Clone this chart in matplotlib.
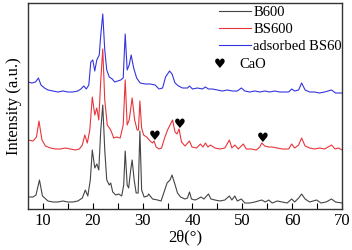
import numpy as np
import matplotlib
matplotlib.use("Agg")
import matplotlib.pyplot as plt
from matplotlib.ticker import MultipleLocator

plt.rcParams['font.family'] = ['Liberation Serif', 'DejaVu Sans']

# readings from the picture: 2theta and intensity (arbitrary, offset per curve)
b600_x = [7.0, 8.0, 8.6, 9.3, 9.9, 11, 12, 13, 14, 15, 16, 17, 17.9, 18.5, 19.0,
          19.5, 19.9, 20.4, 20.8, 21.2, 21.6, 22.0, 22.4, 22.8, 23.3, 23.6, 24.0,
          24.6, 25.2, 25.8, 26.2, 26.5, 26.9, 27.2, 27.6, 27.9, 28.3, 28.7, 29.1,
          29.45, 29.8, 30.3, 31.0, 31.2, 32.0, 33.0, 33.7, 34.3, 34.9, 35.5, 35.9,
          36.4, 37.0, 37.6, 38.5, 39.0, 39.4, 39.8, 40.5, 41.0, 41.7, 42.3, 43.2,
          43.7, 44.5, 45.5, 46.5, 47.4, 47.9, 48.5, 49.0, 49.8, 50.5, 51.5, 52.5,
          53.9, 54.6, 55.3, 56.0, 57.0, 58.0, 59.0, 59.9, 60.5, 61.3, 61.9, 62.6,
          63.5, 64.9, 65.8, 66.8, 67.9, 68.7, 70.0]
b600_y = [12, 12, 14, 29, 13, 8, 7, 7, 8, 7, 7, 8, 11, 19, 13,
          29, 59, 41, 45, 39, 79, 104, 59, 29, 24, 26, 17,
          14, 15, 13, 24, 58, 24, 21, 39, 49, 29, 16, 16,
          78, 19, 12, 13, 15, 10, 9, 8, 17, 26, 29, 34,
          26, 16, 12, 10, 11, 17, 10, 9, 10, 12, 10, 15,
          10, 9, 8, 9, 13, 9, 13, 8, 10, 6, 6, 7,
          9, 7, 9, 6, 8, 7, 6, 10, 7, 11, 15, 10,
          7, 9, 6, 7, 10, 7, 6]

bs600_x = [7.0, 8.0, 8.7, 9.2, 9.8, 10.5, 11.5, 12.5, 13.5, 14.5, 15.5, 16.5, 17.3,
           17.9, 18.4, 18.9, 19.4, 19.9, 20.4, 20.8, 21.2, 21.6, 22.0, 22.4, 22.9,
           23.6, 24.2, 24.8, 25.5, 26.1, 26.5, 26.9, 27.3, 27.9, 28.4, 28.9, 29.15,
           29.45, 29.8, 30.2, 30.8, 31.5, 32.0, 32.3, 32.7, 33.3, 33.8, 34.4, 35.0,
           35.6, 36.0, 36.5, 36.9, 37.3, 37.8, 38.5, 39.4, 39.9, 40.8, 41.6, 42.1,
           42.6, 43.1, 43.6, 44.5, 45.5, 46.5, 47.4, 47.9, 48.5, 49.2, 50.2, 50.8,
           51.8, 52.8, 53.5, 53.9, 54.5, 55.3, 56.0, 57.0, 58.0, 59.3, 59.9, 60.5,
           61.3, 61.9, 62.6, 63.5, 64.5, 65.5, 66.5, 67.9, 68.6, 69.3, 70.0]
bs600_y = [69, 68, 72, 88, 69, 63, 61, 60, 60, 61, 60, 59, 60,
           64, 74, 66, 79, 112, 94, 101, 89, 129, 160, 109, 84,
           79, 71, 72, 71, 84, 129, 84, 89, 111, 89, 79, 79,
           108, 81, 74, 72, 68, 66, 68, 62, 60, 61, 71, 79,
           85, 89, 77, 75, 80, 67, 63, 68, 62, 61, 65, 62,
           66, 62, 64, 61, 60, 61, 69, 61, 64, 60, 65, 60,
           60, 59, 62, 66, 63, 62, 62, 61, 60, 60, 65, 61,
           64, 71, 63, 61, 60, 61, 60, 64, 60, 61, 59]

ads_x = [7.0, 7.8, 8.5, 9.1, 9.6, 10.3, 11.0, 12.0, 13.0, 14.0, 15.0, 16.0, 17.0,
         17.6, 18.2, 18.7, 19.2, 19.6, 20.0, 20.4, 20.8, 21.3, 21.6, 22.0, 22.4,
         22.8, 23.3, 23.9, 24.4, 25.0, 25.6, 26.1, 26.5, 26.9, 27.3, 27.7, 28.2,
         28.8, 29.5, 30.5, 31.5, 32.5, 33.3, 34.0, 34.6, 35.4, 35.9, 36.5, 37.2,
         38.0, 39.0, 39.4, 40.0, 41.0, 42.0, 42.6, 43.2, 44.0, 45.0, 46.0, 47.0,
         48.0, 49.0, 49.8, 50.5, 51.5, 52.5, 53.5, 54.5, 55.5, 56.5, 57.5, 58.5,
         59.3, 59.9, 60.5, 61.3, 61.9, 62.6, 63.5, 64.5, 65.5, 66.5, 67.9, 68.7, 70.0]
ads_y = [127, 126, 127, 131, 124, 121, 119, 118, 117, 118, 117, 117, 118,
         120, 123, 120, 124, 147, 149, 138, 149, 154, 174, 195, 159,
         139, 132, 130, 127, 128, 129, 131, 175, 139, 144, 154, 141,
         131, 126, 125, 125, 124, 120, 121, 132, 138, 135, 126, 123,
         121, 121, 123, 120, 121, 120, 122, 120, 120, 119, 118, 119,
         118, 118, 121, 118, 117, 118, 117, 118, 117, 118, 117, 117,
         117, 120, 118, 119, 126, 119, 117, 117, 116, 117, 119, 116, 116]

cao_x = [32.4, 37.5, 54.2]
cao_y = [72, 84, 71]

fig = plt.figure(figsize=(3.52, 2.5), dpi=100)
ax = fig.add_axes([28/352, 41/250, 314/352, 206/250])

l1, = ax.plot(b600_x, b600_y, color='#444444', lw=0.8, label='B600')
l2, = ax.plot(bs600_x, bs600_y, color='#e8353a', lw=0.8, label='BS600')
l3, = ax.plot(ads_x, ads_y, color='#3434e0', lw=0.8, label='adsorbed BS60')

for x, y in zip(cao_x, cao_y):
    ax.text(x, y, '\u2665', ha='center', va='center', fontsize=9.5,
            family=['DejaVu Sans'], color='black')

ax.set_xlim(7, 70)
ax.set_ylim(0, 206)
ax.xaxis.set_major_locator(MultipleLocator(10))
ax.xaxis.set_minor_locator(MultipleLocator(5))
ax.tick_params(axis='x', which='both', direction='in', length=4, width=0.8,
               labelsize=12, pad=3)
ax.set_yticks([])
for s in ax.spines.values():
    s.set_color('#333333')
    s.set_linewidth(1.0)

ax.set_xlabel('2\u03b8(\u00b0)', fontsize=12, labelpad=0)
ax.set_ylabel('Intensity (a.u.)', fontsize=12, labelpad=4)

leg = ax.legend(handles=[l1, l2, l3], loc='upper left', frameon=False,
                bbox_to_anchor=(219/352, 1 - 6/250), bbox_transform=fig.transFigure,
                fontsize=10.5, handlelength=2.2, handletextpad=0.15,
                labelspacing=0.26, borderpad=0, borderaxespad=0)
for h in leg.get_lines():
    h.set_linewidth(0.8)

fig.text(220/352, 1 - 65/250, '\u2665', ha='center', va='center', fontsize=9.5,
         family=['DejaVu Sans'])
fig.text(239/352, 1 - 65/250, 'CaO', ha='left', va='center', fontsize=10.5)

fig.savefig('out.png', dpi=100)
